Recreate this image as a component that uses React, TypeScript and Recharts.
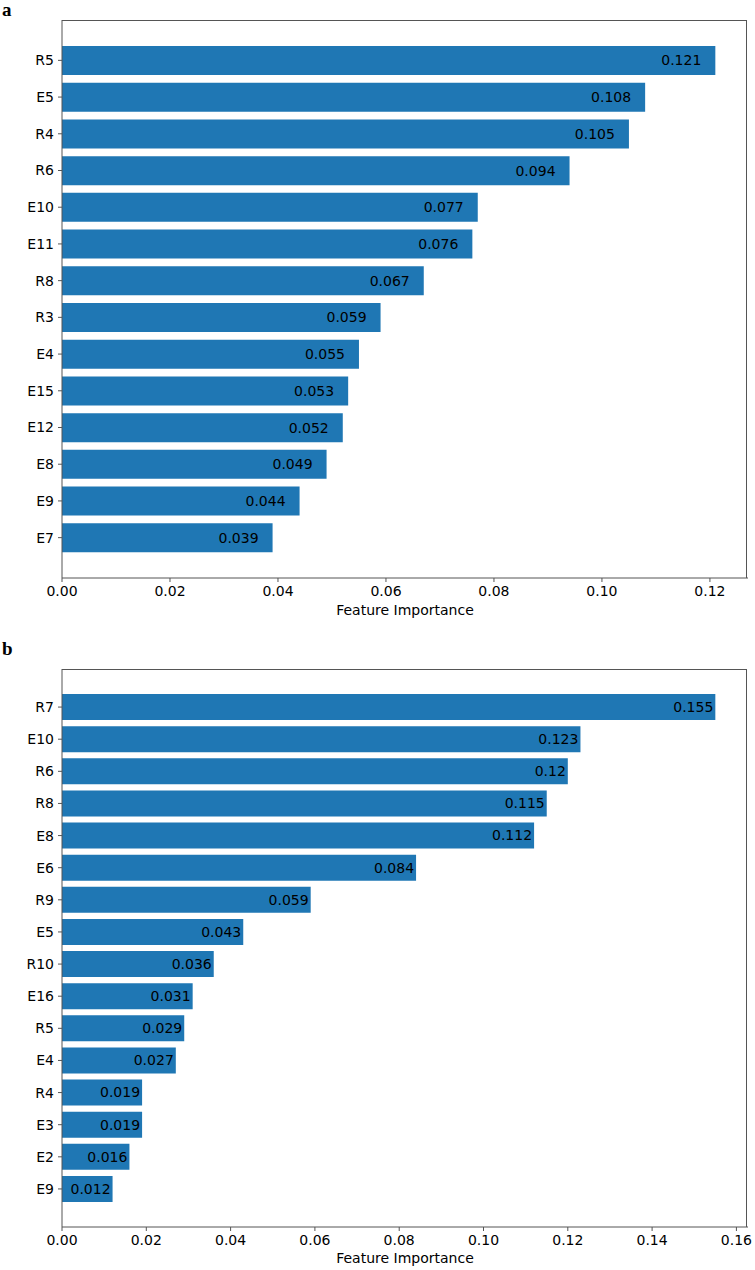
import React from 'react'
import { Bar, BarChart, LabelList, XAxis, YAxis } from 'recharts'

// panel a
const namesA = ['R5', 'E5', 'R4', 'R6', 'E10', 'E11', 'R8', 'R3', 'E4', 'E15', 'E12', 'E8', 'E9', 'E7']
const valuesA = [0.121, 0.108, 0.105, 0.094, 0.077, 0.076, 0.067, 0.059, 0.055, 0.053, 0.052, 0.049, 0.044, 0.039]
const ticksA = [0, 0.02, 0.04, 0.06, 0.08, 0.1, 0.12]

// panel b
const namesB = ['R7', 'E10', 'R6', 'R8', 'E8', 'E6', 'R9', 'E5', 'R10', 'E16', 'R5', 'E4', 'R4', 'E3', 'E2', 'E9']
const valuesB = [0.155, 0.123, 0.12, 0.115, 0.112, 0.084, 0.059, 0.043, 0.036, 0.031, 0.029, 0.027, 0.019, 0.019, 0.016, 0.012]
const ticksB = [0, 0.02, 0.04, 0.06, 0.08, 0.1, 0.12, 0.14, 0.16]

const FONT = "'DejaVu Sans', sans-serif"
const TAG_FONT = "'Liberation Serif', 'Times New Roman', serif"
const SPINE = '#555'
const BLUE = '#1f77b4'

const W = 755
const H = 635
const LEFT = 62
const RIGHT = 7

type PanelProps = {
	names: string[]
	values: number[]
	ticks: number[]
	top: number
	marginTop: number
	axisHeight: number
	labelOffset: number
	valuePad: number
	barSize: number
}

function Panel(p: PanelProps) {
	const data = p.names.map((name, i) => ({ name, value: p.values[i] }))
	// matplotlib-style 5% margin on the x limit
	const xMax = Math.max(...p.values) * 1.05
	return (
		<div style={{ position: 'absolute', left: 0, top: p.top, width: W, height: H }}>
			<BarChart
				width={W}
				height={H}
				data={data}
				layout='vertical'
				margin={{ top: p.marginTop, right: RIGHT, bottom: 0, left: 0 }}
			>
				<XAxis
					type='number'
					domain={[0, xMax]}
					ticks={p.ticks}
					tickFormatter={(v: number) => v.toFixed(2)}
					height={p.axisHeight}
					tickSize={4}
					tickMargin={4}
					stroke={SPINE}
					tick={{ fill: '#000', fontSize: 14, fontFamily: FONT }}
					label={{
						value: 'Feature Importance',
						position: 'insideBottom',
						offset: p.labelOffset,
						fill: '#000',
						fontSize: 14,
						fontFamily: FONT
					}}
				/>
				<YAxis
					type='category'
					dataKey='name'
					width={LEFT}
					tickSize={4}
					tickMargin={4}
					padding={{ top: 22, bottom: 22 }}
					stroke={SPINE}
					tick={{ fill: '#000', fontSize: 14, fontFamily: FONT }}
				/>
				<Bar dataKey='value' fill={BLUE} barSize={p.barSize} isAnimationActive={false}>
					<LabelList
						dataKey='value'
						position='insideRight'
						offset={p.valuePad}
						fill='#000'
						fontSize={14}
						fontFamily={FONT}
					/>
				</Bar>
			</BarChart>
			{/* top and right spines of the axes frame */}
			<div
				style={{
					position: 'absolute',
					left: LEFT,
					top: p.marginTop,
					width: W - LEFT - RIGHT - 1,
					height: H - p.marginTop - p.axisHeight,
					borderTop: `1px solid ${SPINE}`,
					borderRight: `1px solid ${SPINE}`,
					boxSizing: 'border-box',
					pointerEvents: 'none'
				}}
			/>
		</div>
	)
}

export default function App() {
	return (
		<div style={{ position: 'absolute', left: 0, top: 0, width: W, height: 1270, background: '#fff' }}>
			<Panel
				names={namesA}
				values={valuesA}
				ticks={ticksA}
				top={0}
				marginTop={20}
				axisHeight={57}
				labelOffset={20}
				valuePad={14}
				barSize={29}
			/>
			<Panel
				names={namesB}
				values={valuesB}
				ticks={ticksB}
				top={635}
				marginTop={34}
				axisHeight={43}
				labelOffset={7}
				valuePad={2}
				barSize={26}
			/>
			{/* panel letters */}
			<svg
				width={W}
				height={1270}
				style={{ position: 'absolute', left: 0, top: 0, zIndex: 2, pointerEvents: 'none' }}
			>
				<text x={2} y={16} fontFamily={TAG_FONT} fontWeight='bold' fontSize={19} fill='#000'>
					a
				</text>
				<text x={2} y={655} fontFamily={TAG_FONT} fontWeight='bold' fontSize={19} fill='#000'>
					b
				</text>
			</svg>
		</div>
	)
}
